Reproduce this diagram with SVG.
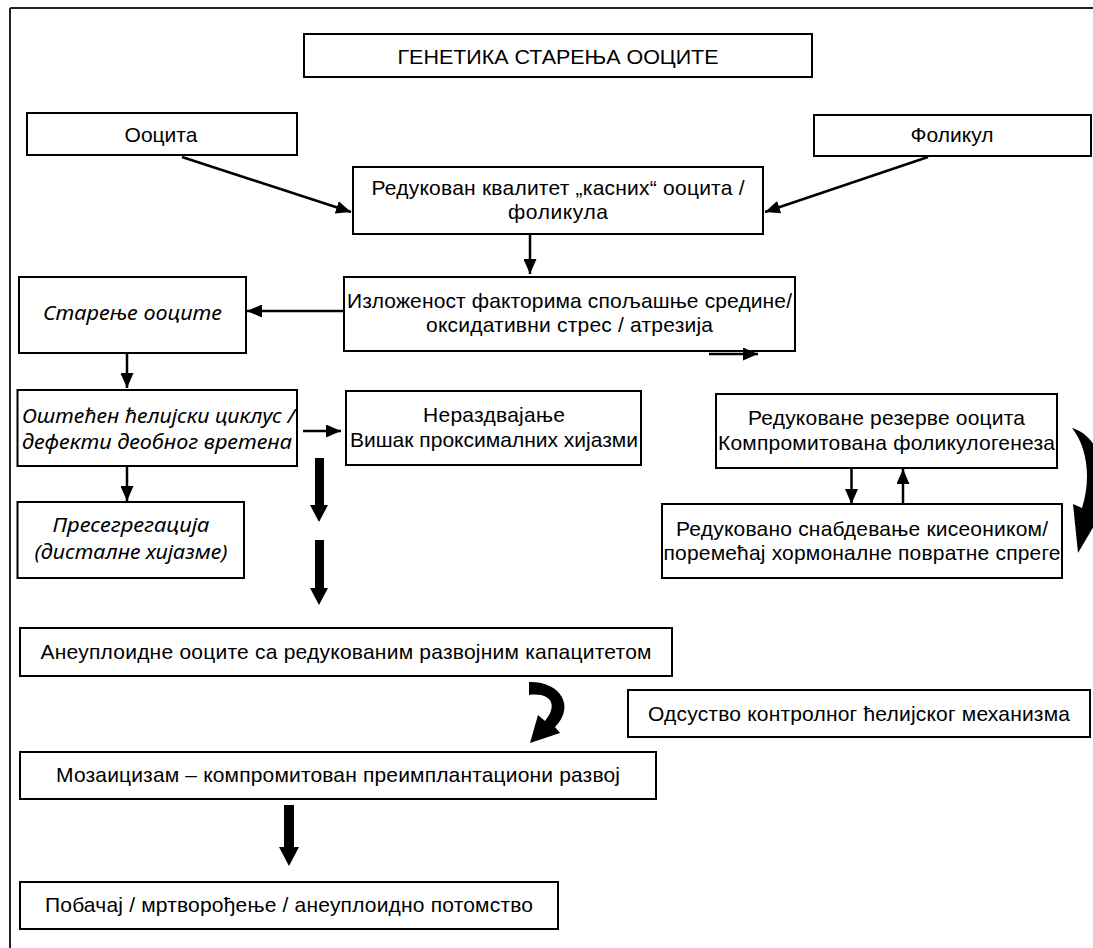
<svg xmlns="http://www.w3.org/2000/svg" width="1093" height="948" viewBox="0 0 1093 948">
<defs>
<style>
.box{fill:#fff;stroke:#000;stroke-width:2}
.t{font-family:"Liberation Sans",Arial,sans-serif;font-size:21px;fill:#000}
.c{text-anchor:middle}
.i{font-family:"Noto Sans","Liberation Sans",Arial,sans-serif;font-style:italic;font-size:20px}
.ln{stroke:#000;stroke-width:2.5;fill:none}
.blk{fill:#000;stroke:none}
</style>
<marker id="ah" markerUnits="userSpaceOnUse" markerWidth="15" markerHeight="13" refX="15" refY="6.5" orient="auto">
<path d="M0,0 L15,6.5 L0,13 z" fill="#000"/>
</marker>
</defs>
<rect x="0" y="0" width="1093" height="948" fill="#fff"/>
<g id="frame">
<line x1="10" y1="8" x2="1093" y2="8" stroke="#222" stroke-width="2"/>
<line x1="10" y1="8" x2="10" y2="948" stroke="#222" stroke-width="2"/>
</g>
<g id="title"><rect class="box" x="304" y="34" width="508" height="43"/><text class="t c" x="558" y="64" textLength="321" lengthAdjust="spacingAndGlyphs">ГЕНЕТИКА СТАРЕЊА ООЦИТЕ</text></g>
<g id="oocita"><rect class="box" x="27" y="113" width="270" height="42"/><text class="t c" x="161" y="142">Ооцита</text></g>
<g id="folikul"><rect class="box" x="814" y="115" width="277" height="41"/><text class="t c" x="952" y="142">Фоликул</text></g>
<g id="redukovan"><rect class="box" x="353" y="167" width="410" height="67"/><text class="t c" x="558" y="195" textLength="373">Редукован квалитет „касних“ ооцита /</text><text class="t c" x="558" y="219" textLength="100">фоликула</text></g>
<g id="izlozenost"><rect class="box" x="344" y="277" width="451" height="74"/><text class="t c" x="569.5" y="308" textLength="445">Изложеност факторима спољашње средине/</text><text class="t c" x="569.5" y="332" textLength="287">оксидативни стрес / атрезија</text></g>
<g id="starenje"><rect class="box" x="19" y="277" width="227" height="76"/><text class="t c i" x="132.5" y="320" textLength="179" lengthAdjust="spacingAndGlyphs">Старење ооците</text></g>
<g id="osteceni"><rect class="box" x="17.5" y="390" width="279.5" height="76"/><text class="t i" x="22" y="423" textLength="273" lengthAdjust="spacingAndGlyphs">Оштећен ћелијски циклус /</text><text class="t i" x="22" y="449" textLength="270" lengthAdjust="spacingAndGlyphs">дефекти деобног вретена</text></g>
<g id="nerazdvajanje"><rect class="box" x="346" y="391" width="295" height="74"/><text class="t c" x="494" y="422" textLength="142">Нераздвајање</text><text class="t c" x="494" y="447" textLength="288">Вишак проксималних хијазми</text></g>
<g id="presegregacija"><rect class="box" x="17.5" y="502" width="226.5" height="76"/><text class="t c i" x="131" y="532" textLength="157" lengthAdjust="spacingAndGlyphs">Пресегрегација</text><text class="t c i" x="131" y="559" textLength="193" lengthAdjust="spacingAndGlyphs">(дисталне хијазме)</text></g>
<g id="rezerve"><rect class="box" x="716" y="394" width="341" height="74"/><text class="t c" x="886.5" y="425" textLength="277">Редуковане резерве ооцита</text><text class="t c" x="886.5" y="450" textLength="337">Компромитована фоликулогенеза</text></g>
<g id="snabdevanje"><rect class="box" x="662" y="504" width="400" height="74"/><text class="t c" x="862" y="536" textLength="372">Редуковано снабдевање кисеоником/</text><text class="t c" x="862" y="560" textLength="397">поремећај хормоналне повратне спреге</text></g>
<g id="aneuploidne"><rect class="box" x="20" y="628" width="652" height="48"/><text class="t c" x="346" y="659" textLength="611">Анеуплоидне ооците са редукованим развојним капацитетом</text></g>
<g id="odsustvo"><rect class="box" x="628" y="690" width="462" height="47"/><text class="t c" x="859" y="721" textLength="422">Одсуство контролног ћелијског механизма</text></g>
<g id="mozaicizam"><rect class="box" x="20" y="752" width="636" height="47"/><text class="t c" x="338" y="782" textLength="564">Мозаицизам – компромитован преимплантациони развој</text></g>
<g id="pobacaj"><rect class="box" x="20" y="882" width="538" height="47"/><text class="t c" x="289" y="912" textLength="488">Побачај / мртворођење / анеуплоидно потомство</text></g>
<g id="connectors">
<line class="ln" x1="182" y1="157" x2="351" y2="212" marker-end="url(#ah)"/>
<line class="ln" x1="928" y1="157" x2="765" y2="212" marker-end="url(#ah)"/>
<line class="ln" x1="530" y1="235" x2="530" y2="274" marker-end="url(#ah)"/>
<line class="ln" x1="344" y1="311" x2="247" y2="311" marker-end="url(#ah)"/>
<line class="ln" x1="709" y1="354" x2="758" y2="354" stroke-width="3" marker-end="url(#ah)"/>
<line class="ln" x1="127" y1="353" x2="127" y2="388" marker-end="url(#ah)"/>
<line class="ln" x1="127" y1="466" x2="127" y2="501" marker-end="url(#ah)"/>
<line class="ln" x1="303" y1="431" x2="341" y2="431" marker-end="url(#ah)"/>
<line class="ln" x1="851.5" y1="468" x2="851.5" y2="504" marker-end="url(#ah)"/>
<line class="ln" x1="903" y1="504" x2="903" y2="469" marker-end="url(#ah)"/>
<polygon class="blk" points="315,458 324,458 324,505 328,505 319,522 310,505 315,505"/>
<polygon class="blk" points="315,540 324,540 324,588 328,588 319,605 310,588 315,588"/>
<polygon class="blk" points="284,805 294,805 294,847 299,847 289,866 279,847 284,847"/>
<path class="blk" d="M1072,428 C1100,436 1112,476 1096,510 L1101,514 L1078,553 L1073,504 L1082,508 C1091,480 1088,448 1072,428 Z"/>
<path class="blk" d="M529,682 C560,681 576,706 555,727 L560,733 L530,743 L538,715 L545,721 C558,706 552,692 529,695 Z"/>
</g>
</svg>
